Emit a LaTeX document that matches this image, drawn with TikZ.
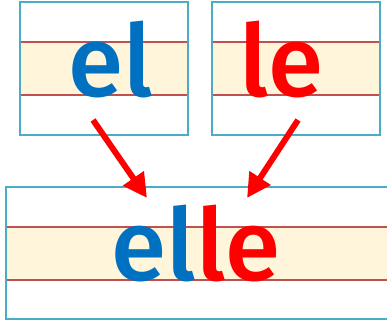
\documentclass[tikz,border=0pt]{standalone}
\usepackage{fontspec}
\newfontfamily\schoolfont{Fira Sans}[UprightFont=* Medium]
\usepackage{tikz}
\usetikzlibrary{
  arrows.meta,
  positioning
}
\definecolor{sheetblue}{HTML}{4BACC6}
\definecolor{rulered}{HTML}{C0504D}
\definecolor{bandcream}{HTML}{FFF5DA}
\definecolor{elblue}{HTML}{0070C0}
\definecolor{lered}{HTML}{FF0000}

\begin{document}
\begin{tikzpicture}[
      x=1pt,y=-1pt,
      sheet/.style={
         rectangle,
         draw=sheetblue,
         line width=1.6pt,
         inner sep=0pt,
         minimum width=168pt,
         minimum height=133pt
      },
      band/.style={fill=bandcream},
      rule/.style={draw=rulered,line width=1.6pt},
      word/.style={
         anchor=base,
         inner sep=0pt,
         font=\schoolfont\fontsize{100}{100}\selectfont
      },
      merge/.style={
         draw=lered,
         line width=6pt,
         -{Triangle[length=24pt,width=24pt]}
      }
    ]
    \useasboundingbox (0,0) rectangle (387,324);
    \clip (0,0) rectangle (387,324);
    % writing bands
    \fill[band] (20,42) rectangle (188,95);
    \fill[band] (212,42) rectangle (380,95);
    \fill[band] (6,227) rectangle (392,280);
    \draw[rule] (20,42) -- (188,42) (20,95) -- (188,95);
    \draw[rule] (212,42) -- (380,42) (212,95) -- (380,95);
    \draw[rule] (6,227) -- (392,227) (6,280) -- (392,280);
    % sheets
    \node (sheetEl) [sheet] at (104,68.5) {};
    \node (sheetLe) [sheet] at (296,68.5) {};
    \node (sheetElle) [sheet, minimum width=386pt, minimum height=132pt] at (199,253) {};
    % words
    \node (wordEl) [word, text=elblue] at (111,96) {el};
    \node (wordLe) [word, text=lered] at (281,96) {le};
    \node (wordElle) [word] at (196,280) {{\color{elblue}el}{\color{lered}le}};
    % arrows
    \coordinate (fromEl) at (93,120);
    \coordinate (toEl) at (147,198);
    \coordinate (fromLe) at (298,120);
    \coordinate (toLe) at (247,198);
    \draw[merge] (fromEl) -- (toEl);
    \draw[merge] (fromLe) -- (toLe);
\end{tikzpicture}
\end{document}
